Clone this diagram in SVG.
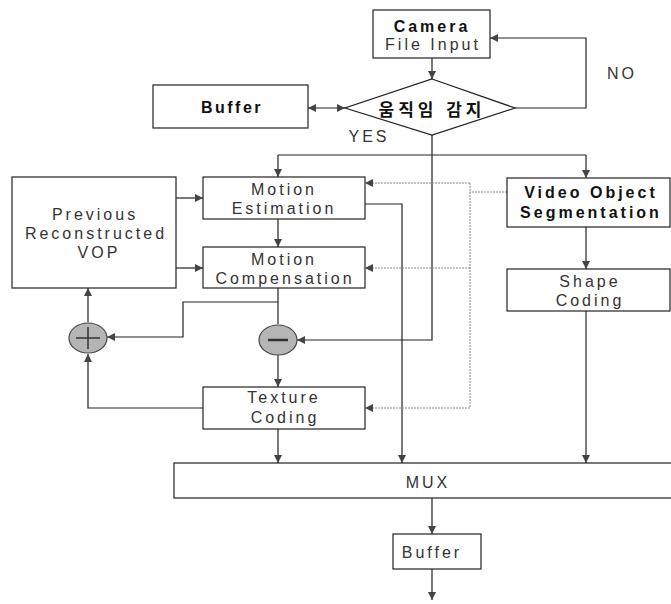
<svg xmlns="http://www.w3.org/2000/svg" width="671" height="604" viewBox="0 0 671 604">
<style>
.box{fill:#fff;stroke:#222;stroke-width:1.2}
.t{font-family:"Liberation Sans","Noto Sans CJK KR",sans-serif;font-size:16px;fill:#333;text-anchor:middle;letter-spacing:3px}
.b{font-weight:bold;fill:#111}
.ln{fill:none;stroke:#222;stroke-width:1.2}
.dt{fill:none;stroke:#888;stroke-width:1;stroke-dasharray:2,1}
.sum{fill:#b5b5b5;stroke:#444;stroke-width:1.2}
</style>
<defs>
<marker id="ah" markerUnits="userSpaceOnUse" markerWidth="9" markerHeight="8" refX="8" refY="4" orient="auto-start-reverse">
<path d="M0,0 L8,4 L0,8 Z" fill="#444"/>
</marker>
</defs>
<rect width="671" height="604" fill="#fff"/>

<g id="connectors">
<path class="ln" d="M432,58 V79" marker-end="url(#ah)"/>
<path class="ln" d="M308,108 H345" marker-start="url(#ah)" marker-end="url(#ah)"/>
<path class="ln" d="M515,108 H586 V38 H490" marker-end="url(#ah)"/>
<path class="ln" d="M432,135 V340 H297" marker-end="url(#ah)"/>
<path class="ln" d="M278,155 H586"/>
<path class="ln" d="M278,155 V177" marker-end="url(#ah)"/>
<path class="ln" d="M586,155 V178" marker-end="url(#ah)"/>
<path class="ln" d="M176,198 H203" marker-end="url(#ah)"/>
<path class="ln" d="M176,268 H203" marker-end="url(#ah)"/>
<path class="ln" d="M278,219 V247" marker-end="url(#ah)"/>
<path class="ln" d="M278,288 V324"/>
<path class="ln" d="M278,302 H183 V337 H107" marker-end="url(#ah)"/>
<path class="ln" d="M88,322 V288" marker-end="url(#ah)"/>
<path class="ln" d="M278,355 V387" marker-end="url(#ah)"/>
<path class="ln" d="M203,408 H88 V354" marker-end="url(#ah)"/>
<path class="ln" d="M278,429 V463" marker-end="url(#ah)"/>
<path class="ln" d="M365,204 H402 V463" marker-end="url(#ah)"/>
<path class="ln" d="M586,227 V269" marker-end="url(#ah)"/>
<path class="ln" d="M586,311 V463" marker-end="url(#ah)"/>
<path class="ln" d="M432,498 V534" marker-end="url(#ah)"/>
<path class="ln" d="M432,569 V600" marker-end="url(#ah)"/>
<path class="dt" d="M507,192 H470"/>
<path class="dt" d="M470,183 V408"/>
<path class="dt" d="M470,183 H365" marker-end="url(#ah)"/>
<path class="dt" d="M470,268 H365" marker-end="url(#ah)"/>
<path class="dt" d="M470,408 H365" marker-end="url(#ah)"/>
<text class="t" x="369" y="142">YES</text>
<text class="t" x="622" y="79">NO</text>
</g>

<g id="camera">
<rect class="box" x="373" y="10" width="117" height="48"/>
<text class="t b" x="432" y="32">Camera</text>
<text class="t" x="433" y="50">File Input</text>
</g>

<g id="detect">
<path class="box" d="M432,79 L515,108 L432,135 L345,108 Z"/>
<text class="t b" x="432" y="116" style="font-size:17px;letter-spacing:4px">움직임 감지</text>
</g>

<g id="buffer-top">
<rect class="box" x="153" y="85" width="155" height="43"/>
<text class="t b" x="232" y="113" style="letter-spacing:2.5px">Buffer</text>
</g>

<g id="prev-vop">
<rect class="box" x="12" y="177" width="164" height="111"/>
<text class="t" x="95" y="220">Previous</text>
<text class="t" x="96" y="239">Reconstructed</text>
<text class="t" x="99" y="258">VOP</text>
</g>

<g id="motion-est">
<rect class="box" x="203" y="177" width="162" height="42"/>
<text class="t" x="284" y="195">Motion</text>
<text class="t" x="284" y="214">Estimation</text>
</g>

<g id="motion-comp">
<rect class="box" x="203" y="247" width="162" height="41"/>
<text class="t" x="284" y="265">Motion</text>
<text class="t" x="285" y="284">Compensation</text>
</g>

<g id="plus">
<ellipse class="sum" cx="88" cy="338" rx="19" ry="15"/>
<path d="M76,338 H100 M88,327 V349" stroke="#333" stroke-width="1.5"/>
</g>

<g id="minus">
<ellipse class="sum" cx="278" cy="340" rx="19" ry="15"/>
<path d="M268,340 H288" stroke="#333" stroke-width="2.5"/>
</g>

<g id="texture">
<rect class="box" x="203" y="387" width="162" height="42"/>
<text class="t" x="284" y="403">Texture</text>
<text class="t" x="285" y="423">Coding</text>
</g>

<g id="vos">
<rect class="box" x="507" y="178" width="163" height="49"/>
<text class="t b" x="591" y="198">Video Object</text>
<text class="t b" x="591" y="218">Segmentation</text>
</g>

<g id="shape">
<rect class="box" x="507" y="269" width="163" height="42"/>
<text class="t" x="590" y="287">Shape</text>
<text class="t" x="590" y="306">Coding</text>
</g>

<g id="mux">
<rect class="box" x="174" y="463" width="510" height="35"/>
<text class="t" x="428" y="488">MUX</text>
</g>

<g id="buffer-bottom">
<rect class="box" x="393" y="534" width="88" height="35"/>
<text class="t" x="432" y="558">Buffer</text>
</g>
</svg>
